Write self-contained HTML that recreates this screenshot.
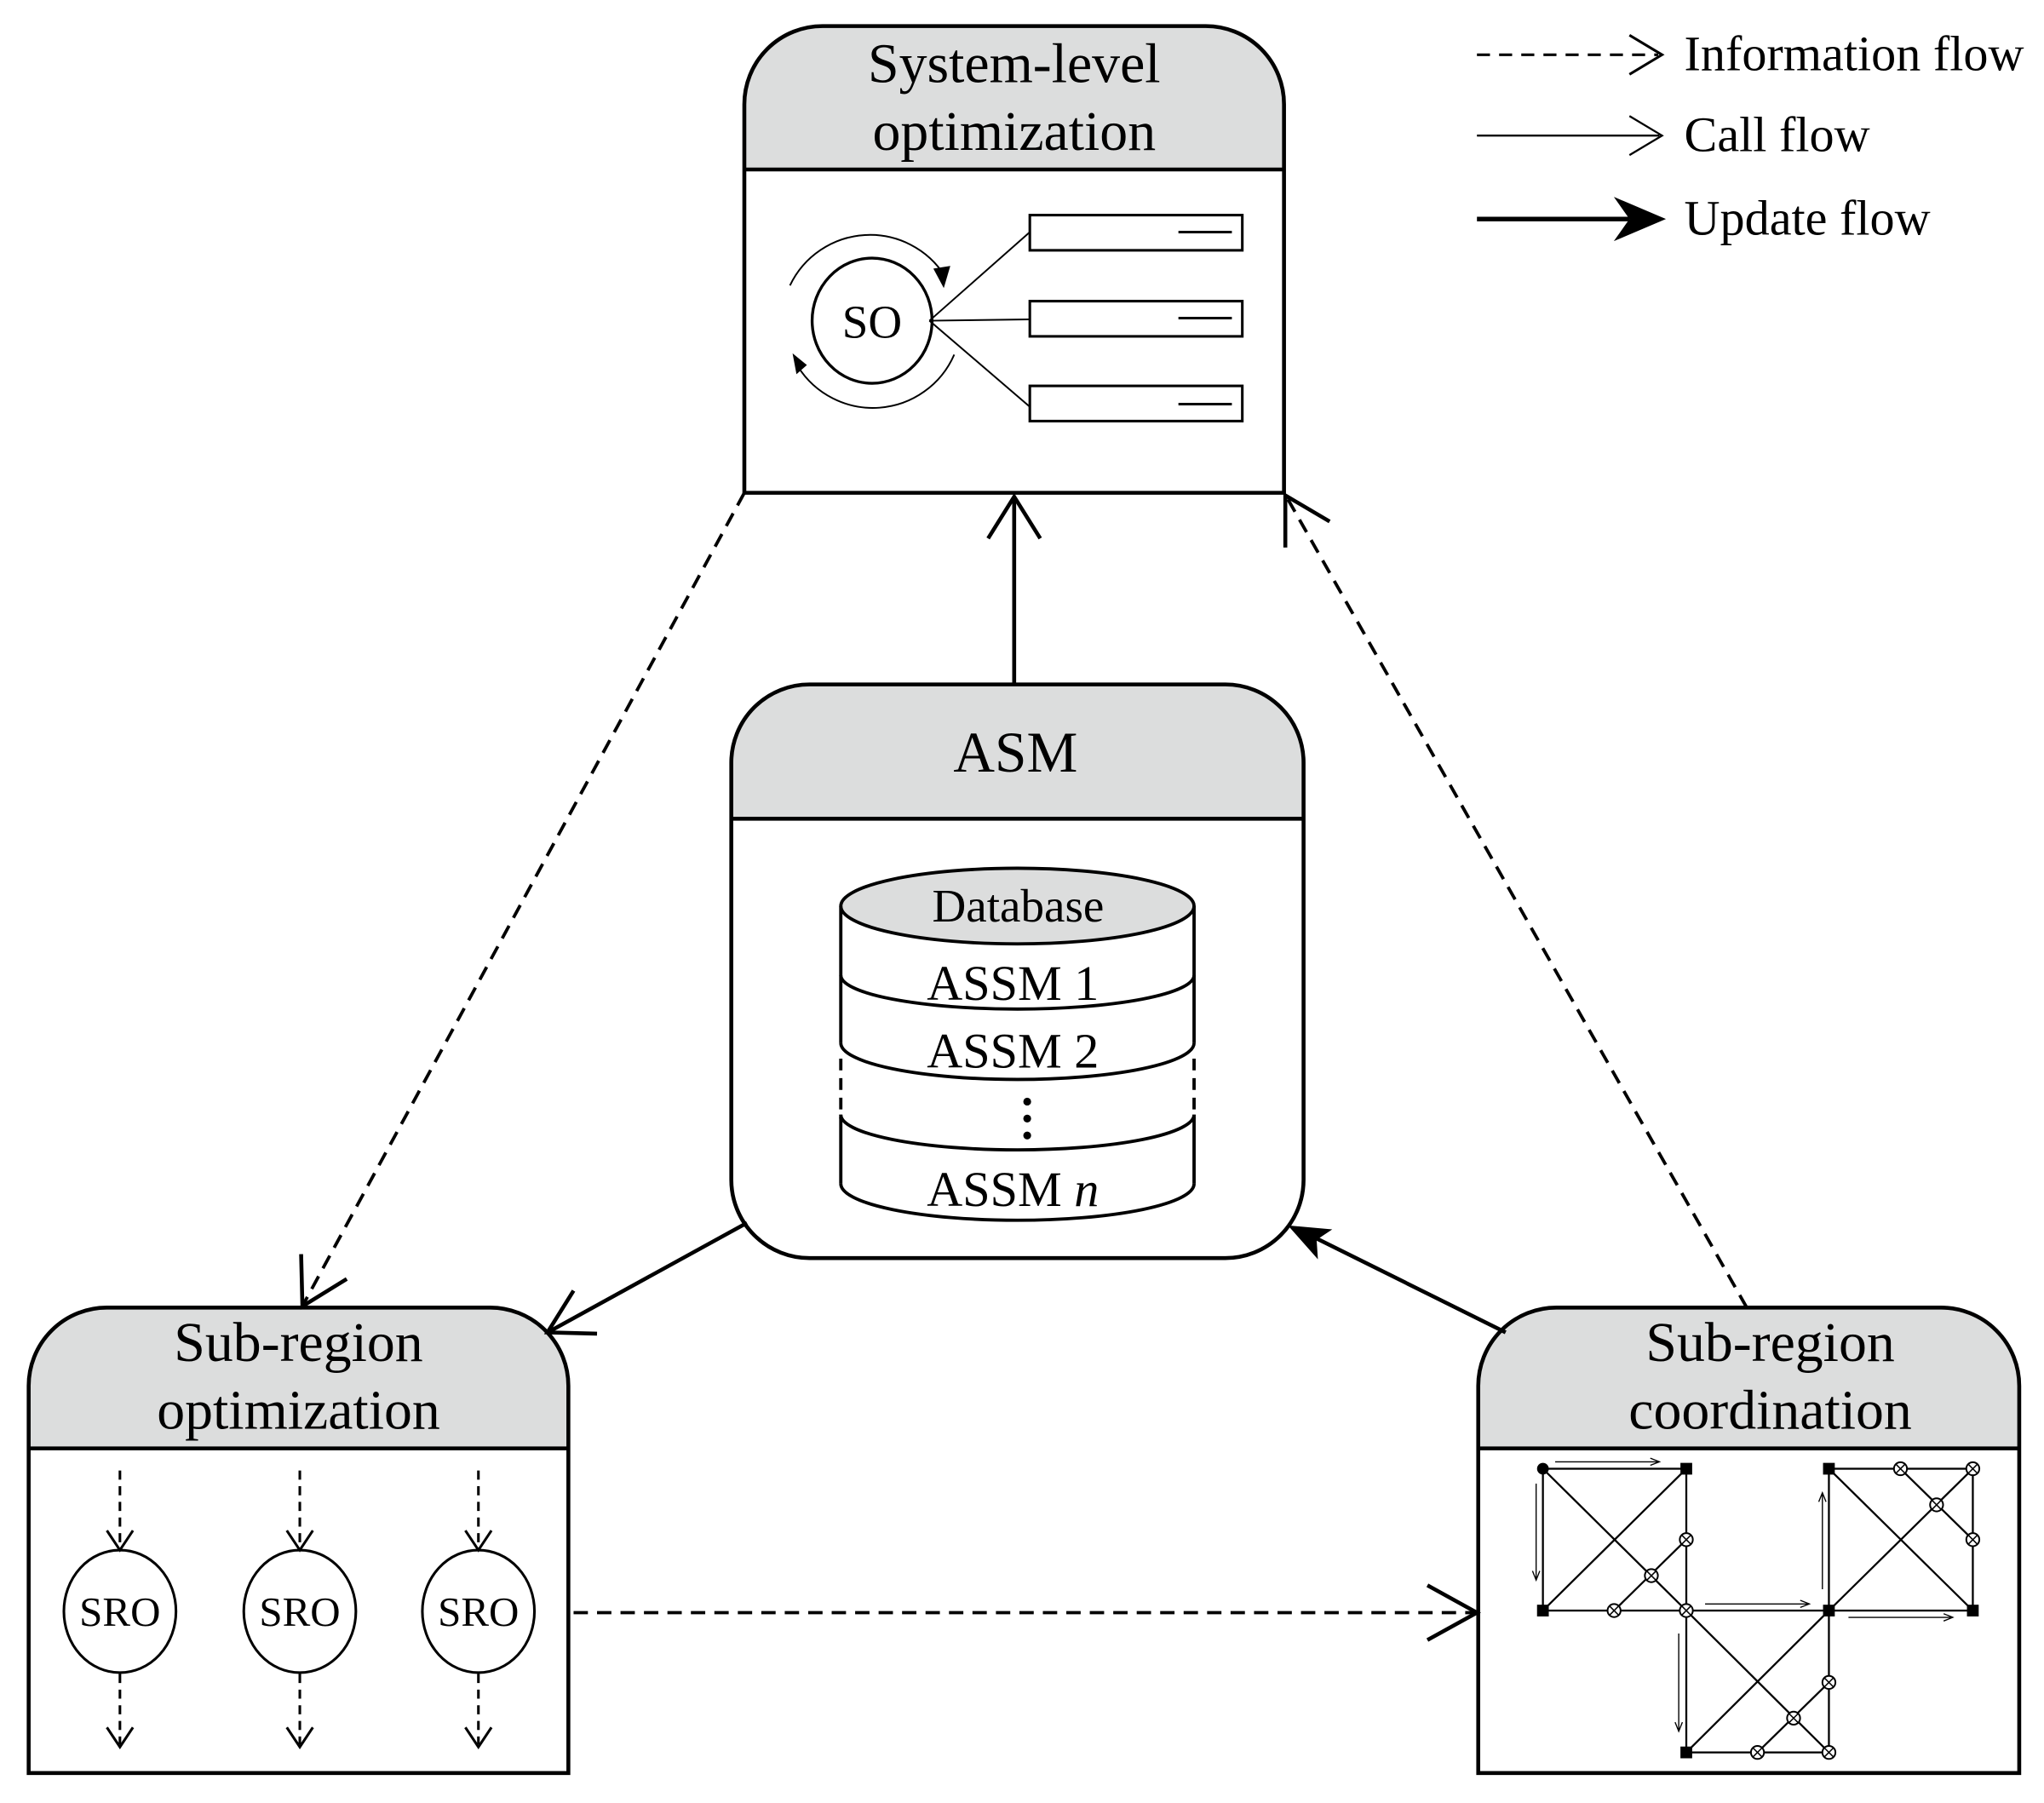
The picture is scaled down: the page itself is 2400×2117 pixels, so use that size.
<!DOCTYPE html>
<html><head><meta charset="utf-8"><style>html,body{margin:0;padding:0;background:#fff}svg{display:block}</style></head>
<body>
<svg width="2400" height="2117" viewBox="0 0 1568 1383" preserveAspectRatio="none" xmlns="http://www.w3.org/2000/svg" font-family="Liberation Serif, serif">
<defs>
<g id="ot"><circle r="5" fill="#fff" stroke="#000" stroke-width="1.3"/><path d="M-3.5,-3.5L3.5,3.5M-3.5,3.5L3.5,-3.5" stroke="#000" stroke-width="1"/></g>
<rect id="sq" x="-4.5" y="-4.5" width="9" height="9" fill="#000"/>
</defs>
<!-- System-level box -->
<path d="M571,130V80A60,60 0 0 1 631,20H925A60,60 0 0 1 985,80V130Z" fill="#dcdddd"/>
<path d="M571,378V80A60,60 0 0 1 631,20H925A60,60 0 0 1 985,80V378Z" fill="none" stroke="#000" stroke-width="3"/>
<line x1="571" y1="130" x2="985" y2="130" stroke="#000" stroke-width="3"/>
<text x="778" y="63" font-size="43" text-anchor="middle">System-level</text>
<text x="778" y="115" font-size="43" text-anchor="middle">optimization</text>
<ellipse cx="669" cy="246" rx="46" ry="48" fill="none" stroke="#000" stroke-width="2.2"/>
<text x="669" y="259" font-size="36" text-anchor="middle">SO</text>
<path d="M606,219A68,68 0 0 1 725,212" fill="none" stroke="#000" stroke-width="1.3"/>
<path d="M716,206L724,221L729,204Z" fill="#000"/>
<path d="M732,272A68,68 0 0 1 612,281" fill="none" stroke="#000" stroke-width="1.3"/>
<path d="M608,271L611,287L619,280Z" fill="#000"/>
<g stroke="#000" stroke-width="1.3"><line x1="713" y1="246" x2="790" y2="178"/><line x1="713" y1="246" x2="790" y2="245"/><line x1="713" y1="246" x2="790" y2="312"/></g>
<g fill="#fff" stroke="#000" stroke-width="2"><rect x="790" y="165" width="163" height="27"/><rect x="790" y="231" width="163" height="27"/><rect x="790" y="296" width="163" height="27"/></g>
<g stroke="#000" stroke-width="2"><line x1="904" y1="178" x2="945" y2="178"/><line x1="904" y1="244" x2="945" y2="244"/><line x1="904" y1="310" x2="945" y2="310"/></g>

<!-- ASM box -->
<path d="M561,628V585A60,60 0 0 1 621,525H940A60,60 0 0 1 1000,585V628Z" fill="#dcdddd"/>
<rect x="561" y="525" width="439" height="440" rx="60" fill="none" stroke="#000" stroke-width="3"/>
<line x1="561" y1="628" x2="1000" y2="628" stroke="#000" stroke-width="3"/>
<text x="779" y="592" font-size="44" text-anchor="middle">ASM</text>
<!-- cylinder -->
<g stroke="#000" stroke-width="2.5" fill="none">
<ellipse cx="780.5" cy="695" rx="135.5" ry="29" fill="#dcdddd"/>
<path d="M645,695V748M916,695V748"/>
<path d="M645,748A135.5,26 0 0 0 916,748"/>
<path d="M645,748V800M916,748V800"/>
<path d="M645,800A135.5,28 0 0 0 916,800"/>
<path d="M645,812V858M916,812V858" stroke-dasharray="9,6"/>
<path d="M645,855A135.5,27 0 0 0 916,855"/>
<path d="M645,855V908M916,855V908"/>
<path d="M645,908A135.5,28 0 0 0 916,908"/>
</g>
<g text-anchor="middle">
<text x="781" y="707" font-size="36">Database</text>
<text x="777" y="767" font-size="38">ASSM 1</text>
<text x="777" y="819" font-size="38">ASSM 2</text>
<text x="777" y="925" font-size="38">ASSM <tspan font-style="italic">n</tspan></text>
</g>
<g fill="#000"><circle cx="788" cy="845" r="3"/><circle cx="788" cy="858" r="3"/><circle cx="788" cy="871" r="3"/></g>

<!-- Sub-region optimization -->
<path d="M22,1111V1063A60,60 0 0 1 82,1003H376A60,60 0 0 1 436,1063V1111Z" fill="#dcdddd"/>
<path d="M22,1360V1063A60,60 0 0 1 82,1003H376A60,60 0 0 1 436,1063V1360Z" fill="none" stroke="#000" stroke-width="3"/>
<line x1="22" y1="1111" x2="436" y2="1111" stroke="#000" stroke-width="3"/>
<text x="229" y="1044" font-size="43" text-anchor="middle">Sub-region</text>
<text x="229" y="1096" font-size="43" text-anchor="middle">optimization</text>
<g stroke="#000" stroke-width="2" fill="none">
<ellipse cx="92" cy="1236" rx="43" ry="47"/><ellipse cx="230" cy="1236" rx="43" ry="47"/><ellipse cx="367" cy="1236" rx="43" ry="47"/>
<g stroke-dasharray="7,5"><path d="M92,1128V1188M230,1128V1188M367,1128V1188M92,1284V1338M230,1284V1338M367,1284V1338"/></g>
<path d="M82,1174L92,1189L102,1174M220,1174L230,1189L240,1174M357,1174L367,1189L377,1174M82,1325L92,1340L102,1325M220,1325L230,1340L240,1325M357,1325L367,1340L377,1325"/>
</g>
<g font-size="32" text-anchor="middle"><text x="92" y="1247">SRO</text><text x="230" y="1247">SRO</text><text x="367" y="1247">SRO</text></g>

<!-- Sub-region coordination -->
<path d="M1134,1111V1063A60,60 0 0 1 1194,1003H1489A60,60 0 0 1 1549,1063V1111Z" fill="#dcdddd"/>
<path d="M1134,1360V1063A60,60 0 0 1 1194,1003H1489A60,60 0 0 1 1549,1063V1360Z" fill="none" stroke="#000" stroke-width="3"/>
<line x1="1134" y1="1111" x2="1549" y2="1111" stroke="#000" stroke-width="3"/>
<text x="1358" y="1044" font-size="43" text-anchor="middle">Sub-region</text>
<text x="1358" y="1096" font-size="43" text-anchor="middle">coordination</text>
<g stroke="#000" stroke-width="1.5" fill="none">
<rect x="1183.6" y="1126.6" width="110" height="108.8"/>
<path d="M1183.6,1126.6L1293.6,1235.4M1293.6,1126.6L1183.6,1235.4M1293.6,1181L1238.2,1235.4"/>
<rect x="1403" y="1126.6" width="110.4" height="108.8"/>
<path d="M1403,1126.6L1513.4,1235.4M1513.4,1126.6L1403,1235.4M1457.9,1126.6L1513.4,1181"/>
<rect x="1293.6" y="1235.4" width="109.4" height="108.8"/>
<path d="M1293.6,1235.4L1403,1344.2M1403,1235.4L1293.6,1344.2M1403,1290.5L1348.2,1344.2"/>
</g>
<g stroke="#000" stroke-width="0.9" fill="none">
<path d="M1193,1121.3H1273M1266,1118.5L1273,1121.3L1266,1124"/>
<path d="M1178.4,1138V1212M1175.6,1205L1178.4,1212L1181.2,1205"/>
<path d="M1308,1230.3H1388M1381,1227.5L1388,1230.3L1381,1233"/>
<path d="M1398,1219V1145M1395.2,1152L1398,1145L1400.8,1152"/>
<path d="M1418,1240.6H1498M1491,1237.8L1498,1240.6L1491,1243.4"/>
<path d="M1287.8,1253V1328M1285,1321L1287.8,1328L1290.6,1321"/>
</g>
<circle cx="1183.6" cy="1126.6" r="4.5" fill="#000"/>
<use href="#sq" x="1293.6" y="1126.6"/><use href="#sq" x="1183.6" y="1235.4"/>
<use href="#sq" x="1403" y="1126.6"/><use href="#sq" x="1403" y="1235.4"/><use href="#sq" x="1513.4" y="1235.4"/>
<use href="#sq" x="1293.6" y="1344.2"/>
<use href="#ot" x="1293.6" y="1181"/><use href="#ot" x="1266.8" y="1208.6"/><use href="#ot" x="1238.2" y="1235.4"/><use href="#ot" x="1293.6" y="1235.4"/>
<use href="#ot" x="1457.9" y="1126.6"/><use href="#ot" x="1513.4" y="1126.6"/><use href="#ot" x="1485.6" y="1154.3"/><use href="#ot" x="1513.4" y="1181"/>
<use href="#ot" x="1403" y="1290.5"/><use href="#ot" x="1375.9" y="1317.9"/><use href="#ot" x="1348.2" y="1344.2"/><use href="#ot" x="1403" y="1344.2"/>

<!-- Connectors -->
<g stroke="#000" stroke-width="3" fill="none">
<line x1="778" y1="525" x2="778" y2="381"/>
<path d="M758,413L778,381L798,413"/>
<line x1="573" y1="938" x2="422" y2="1021"/>
<path d="M458,1023L420,1022L440,990"/>
<line x1="1155" y1="1022" x2="1010" y2="950"/>
</g>
<path d="M988,940L1022,943L1010,951L1011,966Z" fill="#000"/>
<g stroke="#000" stroke-width="2.5" fill="none" stroke-dasharray="11,7">
<line x1="571" y1="378" x2="233" y2="1000"/>
<line x1="1340" y1="1003" x2="988" y2="383"/>
<line x1="440" y1="1237" x2="1130" y2="1237"/>
</g>
<g stroke="#000" stroke-width="3" fill="none">
<path d="M266,981L232,1002L231,962"/>
<path d="M986,420L986,380L1020,400"/>
<path d="M1095,1216L1133,1237L1095,1258"/>
</g>

<!-- Legend -->
<g stroke="#000" fill="none">
<line x1="1133" y1="42" x2="1272" y2="42" stroke-width="2" stroke-dasharray="10,7"/>
<path d="M1250,27L1275,42L1250,57" stroke-width="2"/>
<line x1="1133" y1="104" x2="1273" y2="104" stroke-width="1.5"/>
<path d="M1250,89L1275,104L1250,119" stroke-width="1.5"/>
<line x1="1133" y1="168" x2="1250" y2="168" stroke-width="3.5"/>
</g>
<path d="M1278,168L1238,151L1250,168L1238,185Z" fill="#000"/>
<g font-size="38"><text x="1292" y="54">Information flow</text><text x="1292" y="116">Call flow</text><text x="1292" y="180">Update flow</text></g>
</svg>
</body></html>
